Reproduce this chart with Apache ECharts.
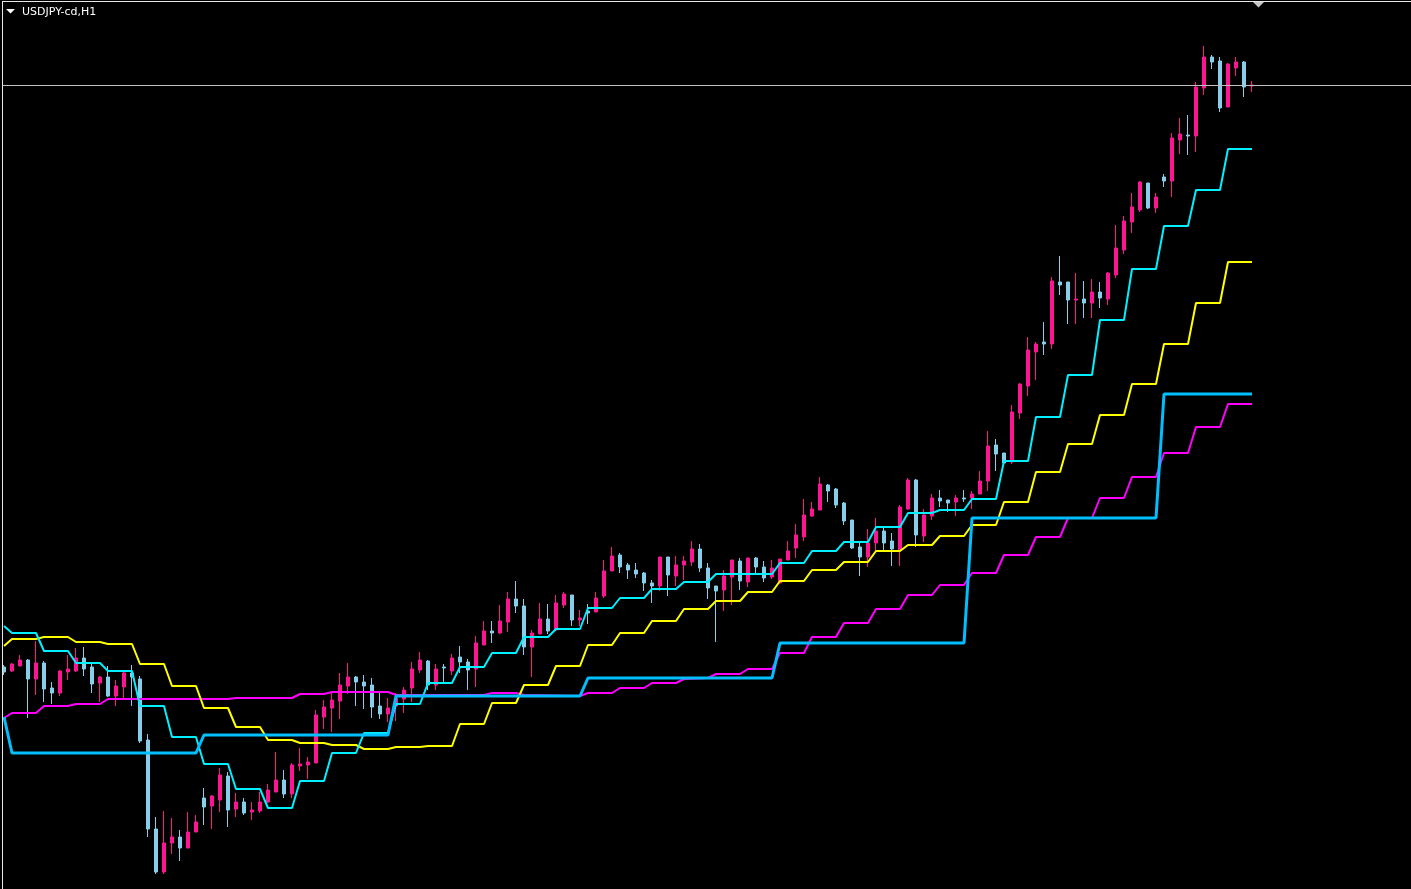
<!DOCTYPE html>
<html>
<head>
<meta charset="utf-8">
<style>
  html, body { margin: 0; padding: 0; background: #000; }
  #chart { width: 1411px; height: 889px; }
</style>
<script src="https://cdn.jsdelivr.net/npm/echarts@6/dist/echarts.min.js"></script>
</head>
<body>
<div id="chart"></div>
<script>
// Chart title
const chartTitle = 'USDJPY-cd,H1';

// Candle values (price in chart points, higher = higher price), one entry per H1 bar
const opens = [
  233, 229, 234, 240, 221, 237, 212, 207, 228, 229,
  242, 233, 217, 223, 204, 213, 227, 221, 160, 71,
  28, 57, 63, 52, 68, 102, 94, 100, 124, 91,
  98, 88, 89, 98, 108, 120, 106, 134, 135, 137,
  183, 192, 199, 214, 223, 218, 215, 194, 186, 194,
  201, 212, 230, 239, 215, 233, 229, 243, 238, 231,
  255, 269, 267, 278, 301, 294, 253, 266, 281, 270,
  295, 305, 280, 289, 288, 304, 329, 345, 335, 330,
  327, 317, 314, 343, 324, 335, 338, 351, 332, 314,
  310, 323, 339, 318, 342, 333, 323, 317, 340, 352,
  363, 384, 390, 415, 411, 397, 380, 353, 343, 357,
  369, 359, 350, 391, 420, 364, 384, 402, 400, 398,
  402, 402, 406, 419, 455, 447, 438, 487, 514, 548,
  558, 556, 618, 618, 600, 601, 597, 608, 601, 625,
  650, 678, 690, 717, 692, 723, 719, 760, 765, 764,
  812, 843, 839, 793, 832, 838, 814
];
const closes = [
  228, 236, 240, 221, 237, 211, 207, 229, 231, 242,
  231, 216, 223, 204, 214, 227, 223, 159, 71, 28,
  57, 63, 52, 68, 78, 93, 104, 125, 90, 98,
  87, 90, 98, 110, 120, 106, 135, 136, 138, 185,
  193, 200, 215, 223, 218, 214, 193, 186, 192, 202,
  210, 231, 240, 215, 231, 232, 242, 238, 230, 257,
  269, 267, 279, 301, 294, 253, 267, 281, 269, 297,
  306, 280, 282, 287, 302, 329, 344, 333, 330, 326,
  317, 314, 343, 325, 335, 339, 351, 332, 312, 309,
  324, 340, 319, 342, 333, 322, 332, 341, 349, 365,
  385, 391, 416, 409, 395, 379, 352, 343, 357, 369,
  357, 351, 393, 420, 365, 385, 402, 399, 397, 402,
  401, 406, 419, 454, 446, 437, 488, 516, 550, 556,
  556, 619, 615, 600, 601, 597, 608, 602, 627, 652,
  679, 693, 718, 692, 703, 719, 762, 766, 764, 813,
  843, 838, 792, 836, 838, 813, 815
];
const lows = [
  225, 228, 234, 182, 205, 198, 196, 204, 220, 228,
  224, 207, 198, 203, 194, 202, 194, 157, 63, 26,
  26, 46, 39, 52, 68, 75, 71, 88, 73, 83,
  85, 80, 87, 97, 108, 102, 102, 129, 121, 137,
  171, 168, 181, 206, 194, 191, 182, 181, 178, 179,
  187, 198, 227, 210, 210, 218, 225, 227, 210, 213,
  255, 257, 266, 268, 287, 245, 223, 266, 266, 269,
  292, 274, 274, 276, 288, 302, 329, 327, 321, 322,
  309, 297, 309, 304, 314, 320, 334, 328, 301, 258,
  289, 295, 310, 313, 326, 318, 321, 317, 340, 342,
  359, 383, 390, 398, 392, 375, 351, 324, 333, 349,
  349, 334, 334, 390, 353, 358, 380, 393, 388, 384,
  398, 391, 406, 409, 429, 437, 436, 481, 504, 520,
  545, 551, 605, 576, 576, 582, 582, 592, 595, 622,
  646, 667, 688, 691, 687, 713, 703, 746, 745, 748,
  805, 831, 788, 793, 824, 803, 808
];
const highs = [
  235, 237, 245, 241, 259, 239, 218, 230, 245, 252,
  253, 238, 224, 234, 220, 230, 235, 224, 166, 83,
  89, 82, 70, 88, 85, 112, 105, 132, 128, 107,
  102, 98, 108, 116, 148, 130, 137, 152, 143, 190,
  200, 207, 227, 237, 224, 225, 222, 208, 202, 207,
  213, 238, 248, 240, 236, 236, 246, 254, 241, 264,
  279, 279, 295, 308, 319, 301, 270, 297, 296, 305,
  308, 305, 290, 296, 308, 340, 353, 347, 337, 337,
  328, 320, 343, 343, 344, 344, 359, 356, 337, 314,
  330, 340, 342, 342, 343, 339, 340, 341, 359, 376,
  401, 398, 423, 416, 412, 398, 380, 357, 371, 382,
  372, 367, 395, 422, 421, 391, 406, 410, 400, 405,
  410, 409, 429, 469, 461, 447, 495, 517, 563, 558,
  578, 623, 644, 618, 627, 619, 621, 618, 628, 675,
  684, 707, 719, 717, 707, 726, 767, 782, 785, 818,
  854, 845, 843, 837, 843, 839, 819
];

// Indicator lines: [bar index, level] at each corner of the stair
const cyanLine = [
  [0,274],[1,267],[4,267],[5,249],[8,249],[9,237],[12,237],[13,229],[16,229],[17,194],
  [20,194],[21,163],[24,163],[25,136],[28,136],[29,111],[32,111],[33,92],[36,92],[37,119],
  [40,119],[41,147],[44,147],[45,167],[48,167],[49,196],[52,196],[53,217],[56,217],[57,233],
  [60,233],[61,247],[64,247],[65,263],[68,263],[69,271],[72,271],[73,292],[76,292],[77,302],
  [80,302],[81,311],[84,311],[85,318],[88,318],[89,326],[96,326],[97,337],[100,337],[101,349],
  [104,349],[105,358],[108,358],[109,373],[112,373],[113,387],[116,387],[117,390],[120,390],[121,401],
  [124,401],[125,439],[128,439],[129,483],[132,483],[133,525],[136,525],[137,580],[140,580],[141,631],
  [144,631],[145,674],[148,674],[149,710],[152,710],[153,751],[156,751]
];
const yellowLine = [
  [0,254],[1,261],[4,261],[5,263],[8,263],[9,258],[12,258],[13,256],[16,256],[17,236],
  [20,236],[21,214],[24,214],[25,192],[28,192],[29,173],[32,173],[33,160],[36,160],[37,157],
  [40,157],[41,155],[44,155],[45,151],[48,151],[49,153],[52,153],[53,154],[56,154],[57,176],
  [60,176],[61,197],[64,197],[65,215],[68,215],[69,234],[72,234],[73,255],[76,255],[77,267],
  [80,267],[81,279],[84,279],[85,291],[88,291],[89,299],[92,299],[93,308],[96,308],[97,319],
  [100,319],[101,330],[104,330],[105,338],[108,338],[109,349],[112,349],[113,355],[116,355],[117,364],
  [120,364],[121,375],[124,375],[125,398],[128,398],[129,428],[132,428],[133,456],[136,456],[137,485],
  [140,485],[141,516],[144,516],[145,556],[148,556],[149,597],[152,597],[153,638],[156,638]
];
const magentaLine = [
  [0,182],[1,187],[4,187],[5,194],[8,194],[9,196],[12,196],[13,201],[28,201],[29,202],
  [36,202],[37,206],[40,206],[41,208],[48,208],[49,205],[60,205],[61,207],[64,207],[65,205],
  [72,204],[73,207],[76,207],[77,212],[80,212],[81,217],[84,217],[85,221],[88,222],[89,226],
  [92,226],[93,231],[96,231],[97,247],[100,247],[101,263],[104,263],[105,277],[108,277],[109,291],
  [112,291],[113,305],[116,305],[117,315],[120,315],[121,327],[124,327],[125,345],[128,345],[129,363],
  [132,363],[133,382],[136,382],[137,402],[140,402],[141,423],[144,423],[145,447],[148,447],[149,473],
  [152,473],[153,496],[156,496]
];
const blueLine = [
  [0,183],[1,147],[24,147],[25,165],[48,165],[49,204],[72,204],[73,222],[96,222],[97,257],
  [120,257],[121,382],[144,382],[145,506],[156,506]
];

// Category axis: bars plus the empty chart-shift space on the right
const barCount = opens.length;
const shiftBars = 20;
const categories = Array.from({ length: barCount + shiftBars }, (_, i) => String(i));

const candleData = opens.map((o, i) => [o, closes[i], lows[i], highs[i]]);
const lastClose = closes[closes.length - 1];

const chart = echarts.init(document.getElementById('chart'), null, { renderer: 'canvas' });

function lineSeries(name, data, color, width, z) {
  return {
    name, type: 'line', data, symbol: 'none', showSymbol: false,
    lineStyle: { color, width }, z, silent: true, animation: false
  };
}

chart.setOption({
  backgroundColor: '#000000',
  animation: false,
  grid: {
    left: 0, top: 0, width: 8 * categories.length, height: 889,
    containLabel: false, outerBoundsMode: 'none'
  },
  xAxis: {
    type: 'category', data: categories, boundaryGap: true,
    axisLine: { show: false }, axisTick: { show: false }, axisLabel: { show: false },
    splitLine: { show: false }
  },
  yAxis: {
    type: 'value', min: 11, max: 900, scale: true,
    axisLine: { show: false }, axisTick: { show: false }, axisLabel: { show: false },
    splitLine: { show: false }
  },
  series: [
    {
      name: 'USDJPY', type: 'candlestick', data: candleData, barWidth: 4, z: 2,
      itemStyle: {
        color: '#ff1493', color0: '#87ceeb',
        borderColor: '#ff1493', borderColor0: '#87ceeb', borderWidth: 1
      },
      markLine: {
        silent: true, symbol: ['none', 'none'], animation: false,
        label: { show: false },
        lineStyle: { color: '#c0c0c0', width: 1, type: 'solid' },
        data: [{ yAxis: lastClose }]
      }
    },
    lineSeries('magenta', magentaLine, '#ff00ff', 2, 3),
    lineSeries('yellow', yellowLine, '#ffff00', 2, 4),
    lineSeries('cyan', cyanLine, '#00f0ff', 2, 5),
    lineSeries('blue', blueLine, '#00bfff', 3, 6)
  ],
  graphic: [
    { type: 'rect', z: 100, shape: { x: 0, y: 0, width: 2, height: 889 }, style: { fill: '#000' } },
    { type: 'rect', z: 100, shape: { x: 0, y: 0, width: 1411, height: 1 }, style: { fill: '#000' } },
    { type: 'rect', z: 101, shape: { x: 2, y: 1, width: 1, height: 888 }, style: { fill: '#e8e8e8' } },
    { type: 'rect', z: 101, shape: { x: 2, y: 1, width: 1409, height: 1 }, style: { fill: '#e8e8e8' } },
    { type: 'polygon', z: 101, shape: { points: [[6, 9], [15, 9], [10.5, 13.5]] }, style: { fill: '#ffffff' } },
    { type: 'polygon', z: 101, shape: { points: [[1253, 2], [1264, 2], [1258.5, 7.5]] }, style: { fill: '#c8c8c8' } },
    {
      type: 'text', z: 101, x: 22, y: 12,
      style: { text: chartTitle, fill: '#ffffff', font: '11px "DejaVu Sans"', verticalAlign: 'middle', align: 'left' }
    }
  ]
});
</script>
</body>
</html>
